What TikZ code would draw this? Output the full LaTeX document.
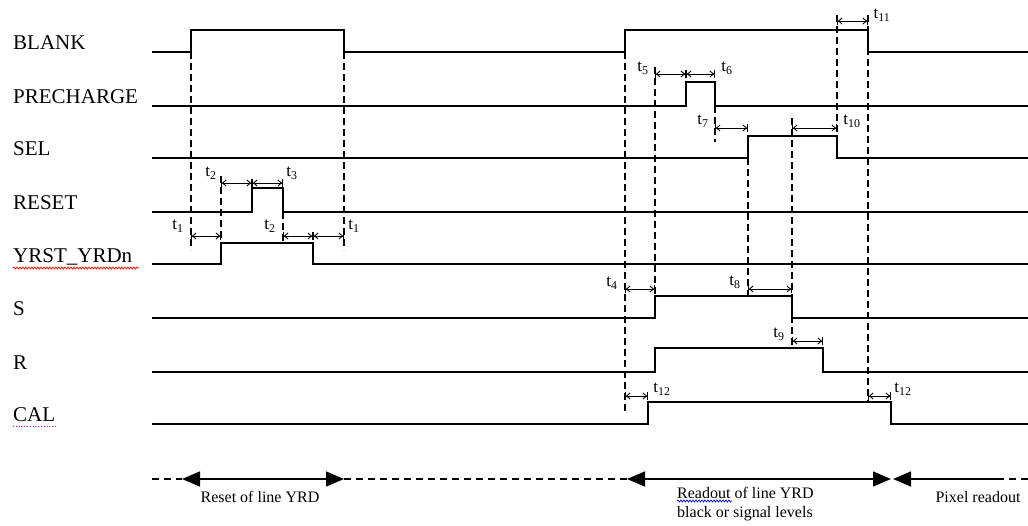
\documentclass[tikz,border=0pt]{standalone}
\usepackage{fontspec}
\setmainfont{Liberation Serif}
\usetikzlibrary{arrows.meta,decorations.pathmorphing}
\begin{document}
\begin{tikzpicture}[x=1pt,y=-1pt,
  wave/.style={line width=1.5pt,line join=miter},
  guide/.style={line width=1.2pt,dash pattern=on 7pt off 4pt},
  tarrow/.style={line width=0.9pt,
    {Bar[width=8pt,line width=0.9pt]Straight Barb[length=3.5pt,width=6pt,line width=0.9pt]}-{Straight Barb[length=3.5pt,width=6pt,line width=0.9pt]Bar[width=8pt,line width=0.9pt]}},
  siglabel/.style={anchor=base west,inner sep=0pt,font=\fontsize{21}{24}\selectfont},
  tlabel/.style={inner sep=0pt,font=\fontsize{17}{19}\selectfont},
  phase/.style={line width=1.5pt,{Triangle[length=18pt,width=15pt]}-{Triangle[length=18pt,width=15pt]}},
  phaseL/.style={line width=1.5pt,{Triangle[length=18pt,width=15pt]}-},
  phasedash/.style={line width=1.2pt,dash pattern=on 7pt off 5pt},
  plabel/.style={inner sep=0pt,font=\fontsize{16}{19}\selectfont},
]
\useasboundingbox (0,0) rectangle (1028,525);

% signal names
\node[siglabel] (nBLANK) at (13,49) {BLANK};
\node[siglabel] (nPRE) at (13,103) {PRECHARGE};
\node[siglabel] (nSEL) at (13,155) {SEL};
\node[siglabel] (nRESET) at (13,209) {RESET};
\node[siglabel] (nYRST) at (13,262) {YRST\_YRDn};
\node[siglabel] (nS) at (13,315) {S};
\node[siglabel] (nR) at (13,369) {R};
\node[siglabel] (nCAL) at (13,421) {CAL};

% spell-check squiggles
\draw[red,line width=0.7pt,decorate,decoration={snake,amplitude=1pt,segment length=3pt}] (13,268) -- (139,268);
\draw[magenta,line width=0.8pt,dotted] (13,426) -- (57,426);
\draw[blue,line width=0.7pt,decorate,decoration={snake,amplitude=1pt,segment length=3pt}] (677,501) -- (732,501);

% waveforms
\draw[wave] (152,52) -| (191,30) -| (344,52) -| (625,30) -| (868,52) -- (1028,52);
\draw[wave] (152,106) -| (686,82) -| (715,106) -- (1028,106);
\draw[wave] (152,158) -| (748,136) -| (837,158) -- (1028,158);
\draw[wave] (152,212) -| (252,188) -| (283,212) -- (1028,212);
\draw[wave] (152,264) -| (221,243) -| (313,264) -- (1028,264);
\draw[wave] (152,318) -| (655,296) -| (792,318) -- (1028,318);
\draw[wave] (152,372) -| (655,348) -| (823,372) -- (1028,372);
\draw[wave] (152,424) -| (648,402) -| (891,424) -- (1028,424);

% dashed guide lines
\draw[guide] (191,30) -- (191,250);
\draw[guide] (344,30) -- (344,250);
\draw[guide] (221,176) -- (221,243);
\draw[guide] (283,212) -- (283,243);
\draw[guide] (625,30) -- (625,412);
\draw[guide] (655,67) -- (655,296);
\draw[guide] (715,106) -- (715,142);
\draw[guide] (748,158) -- (748,296);
\draw[guide] (792,118) -- (792,348);
\draw[guide] (837,15) -- (837,136);
\draw[guide] (868,15) -- (868,403);

% timing arrows
\draw[tarrow] (191,236) -- (221,236);
\draw[tarrow] (221,183) -- (252,183);
\draw[tarrow] (252,183) -- (283,183);
\draw[tarrow] (283,236) -- (313,236);
\draw[tarrow] (313,236) -- (344,236);
\draw[tarrow] (655,74) -- (686,74);
\draw[tarrow] (686,74) -- (715,74);
\draw[tarrow] (715,128) -- (748,128);
\draw[tarrow] (792,128) -- (837,128);
\draw[tarrow] (837,21) -- (868,21);
\draw[tarrow] (625,289) -- (655,289);
\draw[tarrow] (748,289) -- (792,289);
\draw[tarrow] (792,341) -- (823,341);
\draw[tarrow] (625,396) -- (648,396);
\draw[tarrow] (868,396) -- (891,396);

% timing labels
\node[tlabel] (l1a) at (178,226) {t\textsubscript{1}};
\node[tlabel] (l2a) at (211,173) {t\textsubscript{2}};
\node[tlabel] (l3) at (292,173) {t\textsubscript{3}};
\node[tlabel] (l2b) at (270,226) {t\textsubscript{2}};
\node[tlabel] (l1b) at (354,226) {t\textsubscript{1}};
\node[tlabel] (l5) at (643,68) {t\textsubscript{5}};
\node[tlabel] (l6) at (727,68) {t\textsubscript{6}};
\node[tlabel] (l7) at (703,121) {t\textsubscript{7}};
\node[tlabel] (l10) at (852,121) {t\textsubscript{10}};
\node[tlabel] (l11) at (882,15) {t\textsubscript{11}};
\node[tlabel] (l4) at (612,283) {t\textsubscript{4}};
\node[tlabel] (l8) at (735,282) {t\textsubscript{8}};
\node[tlabel] (l9) at (779,334) {t\textsubscript{9}};
\node[tlabel] (l12a) at (662,389) {t\textsubscript{12}};
\node[tlabel] (l12b) at (903,389) {t\textsubscript{12}};

% phase bar
\coordinate (p0) at (152,479);
\coordinate (p1) at (182,479);
\coordinate (p2) at (344,479);
\coordinate (p3) at (627,479);
\coordinate (p4) at (891,479);
\coordinate (p5) at (893,479);
\coordinate (p6) at (997,479);
\coordinate (p7) at (1028,479);
\draw[phasedash] (p0) -- (p1);
\draw[phase] (p1) -- (p2);
\draw[phasedash] (p2) -- (p3);
\draw[phase] (p3) -- (p4);
\draw[phaseL] (p5) -- (p6);
\draw[phasedash] (p6) -- (p7);

\node[plabel] (reset) at (260,497) {Reset of line YRD};
\node[plabel,anchor=north west,align=left] (readout) at (677,487) {Readout of line YRD\\black or signal levels};
\node[plabel] (pixel) at (978,497) {Pixel readout};
\end{tikzpicture}
\end{document}
